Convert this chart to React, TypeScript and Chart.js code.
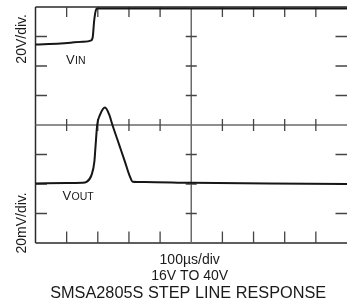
import React, { useEffect, useRef } from "react";
import { Chart, registerables } from "chart.js";

Chart.register(...registerables);

// Oscilloscope-style divisions
const X_DIVS = 10;
const Y_DIVS = 8;

// V_IN trace (x in divisions, y in divisions from bottom)
const vinX = [0, 0.8, 1.5, 1.79, 1.84, 1.88, 1.93, 1.98, 3, 10];
const vinY = [6.73, 6.76, 6.82, 6.87, 7.0, 7.5, 7.86, 7.95, 7.95, 7.95];

// V_OUT trace
const voutX = [0, 1.0, 1.5, 1.64, 1.8, 1.89, 1.93, 1.98, 2.07, 2.23, 2.37, 2.47, 2.69, 2.87, 3.01, 3.12, 3.5, 5, 7.5, 10];
const voutY = [2.02, 2.03, 2.04, 2.07, 2.31, 2.76, 3.32, 4.0, 4.34, 4.59, 4.34, 4.0, 3.32, 2.76, 2.31, 2.08, 2.07, 2.04, 2.02, 2.0];

const yLabelTop = "20V/div.";
const yLabelBottom = "20mV/div.";
const vinLabel = ["V", "IN"];
const voutLabel = ["V", "OUT"];
const captionLines = ["100\u00b5s/div", "16V TO 40V", "SMSA2805S STEP LINE RESPONSE"];

const FONT = "'Liberation Sans', Arial, Helvetica, sans-serif";

const scopePlugin = {
  id: "scopeFrame",
  beforeDatasetsDraw(chart: any) {
    const { ctx, chartArea } = chart;
    const xs = chart.scales.x;
    const ys = chart.scales.y;
    const L = chartArea.left, R = chartArea.right, T = chartArea.top, B = chartArea.bottom;
    const cx = xs.getPixelForValue(X_DIVS / 2);
    const cy = ys.getPixelForValue(Y_DIVS / 2);
    ctx.save();
    // frame
    ctx.strokeStyle = "#2a2a2a";
    ctx.lineWidth = 1.5;
    ctx.beginPath();
    ctx.moveTo(L, T); ctx.lineTo(R, T);
    ctx.moveTo(L, T); ctx.lineTo(L, B);
    ctx.moveTo(L, B); ctx.lineTo(R, B);
    ctx.stroke();
    // center axes
    ctx.strokeStyle = "#6a6a6a";
    ctx.beginPath();
    ctx.moveTo(L, cy); ctx.lineTo(R, cy);
    ctx.moveTo(cx, T); ctx.lineTo(cx, B);
    ctx.stroke();
    // ticks
    ctx.strokeStyle = "#444";
    ctx.lineWidth = 1.3;
    ctx.beginPath();
    for (let i = 1; i < X_DIVS; i++) {
      if (i === X_DIVS / 2) continue;
      const px = xs.getPixelForValue(i);
      ctx.moveTo(px, T); ctx.lineTo(px, T + 10);
      ctx.moveTo(px, B); ctx.lineTo(px, B - 11.5);
      ctx.moveTo(px, cy - 6); ctx.lineTo(px, cy + 6);
    }
    for (let j = 1; j < Y_DIVS; j++) {
      if (j === Y_DIVS / 2) continue;
      const py = ys.getPixelForValue(j);
      ctx.moveTo(L, py); ctx.lineTo(L + 11.5, py);
      ctx.moveTo(R, py); ctx.lineTo(R - 11.5, py);
      ctx.moveTo(cx - 5.5, py); ctx.lineTo(cx + 5.5, py);
    }
    ctx.stroke();
    ctx.restore();
  },
  afterDraw(chart: any) {
    const { ctx, chartArea } = chart;
    const xs = chart.scales.x;
    const ys = chart.scales.y;
    ctx.save();
    ctx.fillStyle = "#1a1a1a";
    // rotated y labels
    const drawRot = (text: string, x: number, y: number) => {
      ctx.save();
      ctx.translate(x, y);
      ctx.rotate(-Math.PI / 2);
      ctx.font = `14px ${FONT}`;
      ctx.textAlign = "center";
      ctx.textBaseline = "middle";
      ctx.fillText(text, 0, 0);
      ctx.restore();
    };
    drawRot(yLabelTop, chartArea.left - 13.5, ys.getPixelForValue(6.92));
    drawRot(yLabelBottom, chartArea.left - 13.5, ys.getPixelForValue(0.68));

    // trace labels with subscripts
    const drawSub = (parts: string[], u: number, v: number) => {
      let x = xs.getPixelForValue(u);
      const y = ys.getPixelForValue(v);
      ctx.textAlign = "left";
      ctx.textBaseline = "alphabetic";
      ctx.font = `13px ${FONT}`;
      ctx.fillText(parts[0], x, y);
      x += ctx.measureText(parts[0]).width + 0.3;
      ctx.font = `10.5px ${FONT}`;
      ctx.fillText(parts[1], x, y + 0.5);
    };
    drawSub(vinLabel, 0.98, 6.08);
    drawSub(voutLabel, 0.87, 1.46);

    // caption
    const mid = xs.getPixelForValue(4.95);
    ctx.textAlign = "center";
    ctx.textBaseline = "alphabetic";
    ctx.font = `14px ${FONT}`;
    ctx.fillText(captionLines[0], mid, chartArea.bottom + 21);
    ctx.fillText(captionLines[1], mid, chartArea.bottom + 37);
    ctx.font = `16.3px ${FONT}`;
    ctx.fillText(captionLines[2], xs.getPixelForValue(4.9), chartArea.bottom + 55);
    ctx.restore();
  },
};

export default function App() {
  const ref = useRef<HTMLCanvasElement | null>(null);
  useEffect(() => {
    if (!ref.current) return;
    const chart = new Chart(ref.current, {
      type: "scatter",
      data: {
        datasets: [
          {
            label: "VIN",
            data: vinX.map((x, i) => ({ x, y: vinY[i] })),
            showLine: true,
            borderColor: "#161616",
            borderWidth: 2,
            pointRadius: 0,
            cubicInterpolationMode: "monotone",
            clip: false as any,
          },
          {
            label: "VOUT",
            data: voutX.map((x, i) => ({ x, y: voutY[i] })),
            showLine: true,
            borderColor: "#161616",
            borderWidth: 2,
            pointRadius: 0,
            cubicInterpolationMode: "monotone",
            clip: false as any,
          },
        ],
      },
      options: {
        animation: false,
        responsive: true,
        maintainAspectRatio: false,
        layout: { padding: { left: 35.5, right: 0, top: 7, bottom: 59 } },
        scales: {
          x: { type: "linear", min: 0, max: X_DIVS, display: false },
          y: { type: "linear", min: 0, max: Y_DIVS, display: false },
        },
        plugins: { legend: { display: false }, tooltip: { enabled: false } },
        events: [],
      },
      plugins: [scopePlugin],
    });
    return () => chart.destroy();
  }, []);
  return (
    <div style={{ position: "fixed", left: 0, top: 0, width: 347, height: 302, background: "#fff" }}>
      <canvas ref={ref} />
    </div>
  );
}
